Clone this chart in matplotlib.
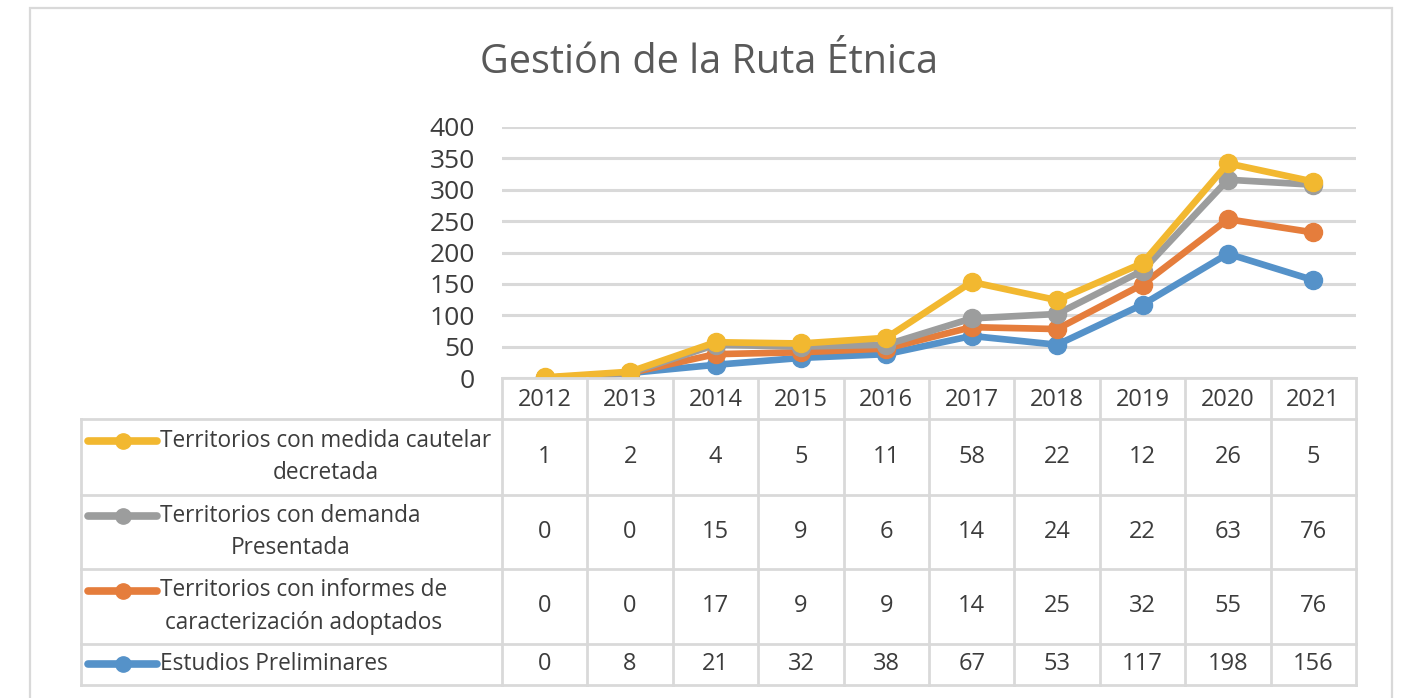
import numpy as np
import matplotlib
matplotlib.use("Agg")
import matplotlib.pyplot as plt
from matplotlib.patches import Rectangle

plt.rcParams['font.family'] = ['Open Sans', 'DejaVu Sans']

# Data (values per year, the chart stacks them)
years = ['2012', '2013', '2014', '2015', '2016', '2017', '2018', '2019', '2020', '2021']
estudios = [0, 8, 21, 32, 38, 67, 53, 117, 198, 156]
informes = [0, 0, 17, 9, 9, 14, 25, 32, 55, 76]
demanda = [0, 0, 15, 9, 6, 14, 24, 22, 63, 76]
medida = [1, 2, 4, 5, 11, 58, 22, 12, 26, 5]

series_names = ['Estudios Preliminares',
                'Territorios con informes de\ncaracterización adoptados',
                'Territorios con demanda\nPresentada',
                'Territorios con medida cautelar\ndecretada']
series_vals = [estudios, informes, demanda, medida]
colors = ['#5592C9', '#E57D3C', '#9C9D9D', '#F2B830']

TXT = '#3C3C3C'
GRID = '#D9D9D9'

W, H = 1404, 698
fig = plt.figure(figsize=(W / 100, H / 100), dpi=100)


def px_axes(x0, y0, x1, y1):
    return fig.add_axes([x0 / W, 1 - y1 / H, (x1 - x0) / W, (y1 - y0) / H])


# chart border
fig.add_artist(Rectangle((30 / W, -0.05), (1392 - 30) / W, 1.05 - 8 / H,
                         transform=fig.transFigure, fill=False,
                         edgecolor='#D9D9D9', lw=1.6))

fig.text(709 / W, 1 - 63 / H, 'Gestión de la Ruta Étnica', ha='center', va='center',
         fontsize=28.5, color='#595959')

# ---- plot area ----
ax = px_axes(502, 127, 1356, 378)
x = np.arange(len(years))
cum = np.cumsum(np.array(series_vals), axis=0)
for vals, c in zip(cum, colors):
    ax.plot(x, vals, color=c, lw=4.8, marker='o', ms=13, zorder=3,
            solid_capstyle='round')
ax.set_xlim(-0.5, len(years) - 0.5)
ax.set_ylim(0, 400)
ax.set_yticks(np.arange(0, 401, 50))
ax.yaxis.grid(True, color=GRID, lw=2.2)
ax.set_axisbelow(True)
ax.set_xticks([])
for s in ax.spines.values():
    s.set_visible(False)
ax.tick_params(axis='y', length=0, pad=19.5, labelsize=19, labelcolor=TXT)
ax.patch.set_alpha(0)

# ---- data table ----
ppx = (1356 - 502) / len(years)
left = -0.5 - (502 - 81) / ppx
tab = px_axes(81, 378, 1356, 686)
tab.set_xlim(left, len(years) - 0.5)
tab.set_ylim(308, 0)
tab.axis('off')
edges = [0, 41, 117, 191, 266, 307]
LW = 2.0
# header row
tab.plot([-0.5, len(years) - 0.5], [0, 0], color=GRID, lw=LW, clip_on=False)
for i, yr in enumerate(years):
    tab.text(i, edges[1] / 2 + 1, yr, ha='center', va='center', fontsize=17, color=TXT)
for i in range(len(years) + 1):
    tab.plot([i - 0.5, i - 0.5], [0, edges[-1]], color=GRID, lw=LW, clip_on=False)
tab.plot([left, left], [edges[1], edges[-1]], color=GRID, lw=LW, clip_on=False)
for e in edges[1:]:
    tab.plot([left, len(years) - 0.5], [e, e], color=GRID, lw=LW, clip_on=False)

key_x0 = left + (88 - 81) / ppx
key_x1 = left + (157 - 81) / ppx
txt_x = left + (160 - 81) / ppx
rows = list(range(len(series_names)))[::-1]
for r, si in enumerate(rows):
    yc = (edges[r + 1] + edges[r + 2]) / 2
    two = '\n' in series_names[si]
    ky = yc - 16 if two else yc - 1
    tab.plot([key_x0, key_x1], [ky, ky], color=colors[si], lw=5.5,
             solid_capstyle='round', clip_on=False)
    tab.plot([(key_x0 + key_x1) / 2], [ky], marker='o', ms=11, color=colors[si],
             clip_on=False)
    tab.text(txt_x, yc, series_names[si], ha='left', va='center', multialignment='center',
             fontsize=16.3, color=TXT, linespacing=1.45)
    for i, v in enumerate(series_vals[si]):
        tab.text(i, yc, str(v), ha='center', va='center', fontsize=17, color=TXT)

fig.savefig('out.png', dpi=100, facecolor='white')
